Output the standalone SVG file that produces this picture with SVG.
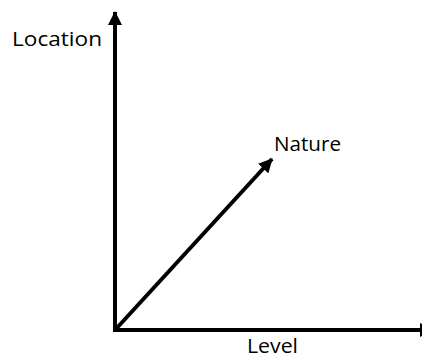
<svg xmlns="http://www.w3.org/2000/svg" width="422" height="359" viewBox="0 0 422 359">
<defs>
<marker id="arr" markerUnits="userSpaceOnUse" markerWidth="14" markerHeight="14" refX="13" refY="7" orient="auto" viewBox="0 0 14 14">
<path d="M0,0 L14,7 L0,14 Z" fill="#000"/>
</marker>
</defs>
<style>
.ax{stroke:#000;stroke-width:4;fill:none}
.lb{font-family:"Open Sans","Liberation Sans",Arial,sans-serif;font-size:20px;fill:#000}
</style>
<rect width="422" height="359" fill="#fff"/>
<g id="connectors">
<line class="ax" x1="115" y1="332" x2="115" y2="12" marker-end="url(#arr)"/>
<line class="ax" x1="113" y1="330" x2="433" y2="330" marker-end="url(#arr)"/>
<line class="ax" x1="115" y1="330" x2="272" y2="159" marker-end="url(#arr)"/>
</g>
<g id="location"><text class="lb" x="12" y="46" textLength="90" lengthAdjust="spacingAndGlyphs">Location</text></g>
<g id="nature"><text class="lb" x="274" y="151" textLength="67" lengthAdjust="spacingAndGlyphs">Nature</text></g>
<g id="level"><text class="lb" x="247" y="353" textLength="51" lengthAdjust="spacingAndGlyphs">Level</text></g>
</svg>
